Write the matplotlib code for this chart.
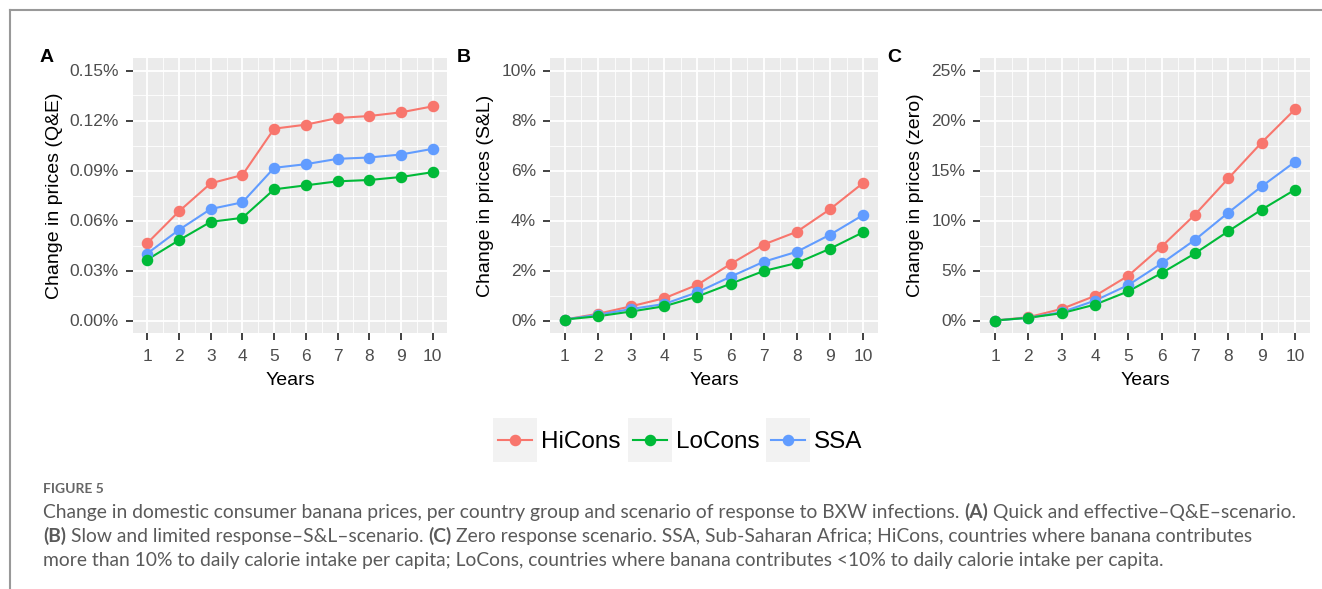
import matplotlib
matplotlib.use('Agg')
import matplotlib.pyplot as plt
from matplotlib.patches import Rectangle
from matplotlib.lines import Line2D
from matplotlib.ticker import FixedLocator, FuncFormatter

# ---------------- data ----------------
years = [1, 2, 3, 4, 5, 6, 7, 8, 9, 10]
series_names = ['HiCons', 'LoCons', 'SSA']

# Panel A: quick and effective (Q&E), % change
qe_hicons = [0.0464, 0.0655, 0.0823, 0.0873, 0.1151, 0.1175, 0.1215, 0.1227, 0.1249, 0.1285]
qe_locons = [0.0365, 0.0482, 0.0592, 0.0616, 0.0787, 0.0811, 0.0835, 0.0843, 0.0861, 0.0890]
qe_ssa = [0.0402, 0.0544, 0.0669, 0.0709, 0.0916, 0.0938, 0.0970, 0.0978, 0.0996, 0.1030]

# Panel B: slow and limited (S&L), % change
sl_hicons = [0.04, 0.27, 0.57, 0.89, 1.43, 2.26, 3.04, 3.55, 4.45, 5.50]
sl_locons = [0.04, 0.17, 0.36, 0.57, 0.96, 1.47, 1.98, 2.30, 2.87, 3.53]
sl_ssa = [0.04, 0.23, 0.46, 0.66, 1.13, 1.75, 2.35, 2.75, 3.43, 4.22]

# Panel C: zero response, % change
zr_hicons = [0.00, 0.33, 1.16, 2.46, 4.48, 7.40, 10.59, 14.21, 17.80, 21.12]
zr_locons = [0.00, 0.27, 0.73, 1.59, 2.92, 4.75, 6.71, 8.93, 11.09, 13.08]
zr_ssa = [0.00, 0.27, 0.83, 1.99, 3.55, 5.71, 8.07, 10.79, 13.41, 15.87]

qe_yticks = [0.00, 0.03, 0.06, 0.09, 0.12, 0.15]
sl_yticks = [0, 2, 4, 6, 8, 10]
zr_yticks = [0, 5, 10, 15, 20, 25]

panel_letters = ['A', 'B', 'C']
panel_ylabels = ['Change in prices (Q&E)', 'Change in prices (S&L)', 'Change in prices (zero)']

caption_head = 'FIGURE 5'
caption_lines = [
    [("Change in domestic consumer banana prices, per country group and scenario of response to BXW infections. ", False),
     ("(A)", True), (" Quick and effective\u2013Q&E\u2013scenario.", False)],
    [("(B)", True), (" Slow and limited response\u2013S&L\u2013scenario. ", False), ("(C)", True),
     (" Zero response scenario. SSA, Sub-Saharan Africa; HiCons, countries where banana contributes", False)],
    [("more than 10% to daily calorie intake per capita; LoCons, countries where banana contributes <10% to daily calorie intake per capita.", False)],
]

# ---------------- style ----------------
colors = {'HiCons': '#F8766D', 'LoCons': '#00BA38', 'SSA': '#619CFF'}
draw_order = ['HiCons', 'SSA', 'LoCons']
W, H = 1322, 589
FONT = 'Liberation Sans'
CAPFONT = 'Lato'

fig = plt.figure(figsize=(W / 100, H / 100), dpi=100)
fig.patch.set_facecolor('white')

panels = [
    dict(data={'HiCons': qe_hicons, 'LoCons': qe_locons, 'SSA': qe_ssa}, yticks=qe_yticks,
         fmt=lambda v, p: f'{v:.2f}%', left=133, right=447),
    dict(data={'HiCons': sl_hicons, 'LoCons': sl_locons, 'SSA': sl_ssa}, yticks=sl_yticks,
         fmt=lambda v, p: f'{v:.0f}%', left=550, right=878),
    dict(data={'HiCons': zr_hicons, 'LoCons': zr_locons, 'SSA': zr_ssa}, yticks=zr_yticks,
         fmt=lambda v, p: f'{v:.0f}%', left=980, right=1310),
]
top_px, bot_px = 58, 333

for i, pnl in enumerate(panels):
    ax = fig.add_axes([pnl['left'] / W, 1 - bot_px / H, (pnl['right'] - pnl['left']) / W, (bot_px - top_px) / H])
    ax.set_facecolor('#EBEBEB')
    for s in ax.spines.values():
        s.set_visible(False)
    yt = pnl['yticks']
    yr = yt[-1] - yt[0]
    ax.set_ylim(yt[0] - 0.05 * yr, yt[-1] + 0.05 * yr)
    ax.set_xlim(1 - 0.45, 10 + 0.45)
    ax.yaxis.set_major_locator(FixedLocator(yt))
    step = yt[1] - yt[0]
    ax.yaxis.set_minor_locator(FixedLocator([v + step / 2 for v in yt[:-1]]))
    ax.xaxis.set_major_locator(FixedLocator(years))
    ax.xaxis.set_minor_locator(FixedLocator([y + 0.5 for y in years[:-1]]))
    ax.yaxis.set_major_formatter(FuncFormatter(pnl['fmt']))
    ax.grid(which='major', color='white', linewidth=1.3)
    ax.grid(which='minor', color='white', linewidth=0.6)
    ax.set_axisbelow(True)
    ax.tick_params(which='major', length=5, width=1.3, color='#333333', labelsize=12.5,
                   labelcolor='#4D4D4D')
    ax.tick_params(axis='x', which='major', pad=6.5)
    ax.tick_params(axis='y', which='major', pad=5)
    ax.tick_params(which='minor', length=0)
    for lab in ax.get_xticklabels() + ax.get_yticklabels():
        lab.set_fontfamily(FONT)
    ax.set_xlabel('Years', fontsize=14, family=FONT, color='black', labelpad=6)
    ax.set_ylabel(panel_ylabels[i], fontsize=14, family=FONT, color='black', labelpad=5)
    for name in draw_order:
        ax.plot(years, pnl['data'][name], color=colors[name], lw=1.5, zorder=3)
    for name in draw_order:
        ax.plot(years, pnl['data'][name], linestyle='none', marker='o', markersize=7.3,
                color=colors[name], zorder=4)
    fig.text((pnl['left'] - 93) / W, 1 - 62 / H, panel_letters[i], fontsize=14, fontweight='bold',
             family=FONT, ha='left', va='baseline')

# ---------------- legend ----------------
leg_boxes = [493, 628, 766]
box = 44
ly0 = 418
for name, bx in zip(series_names, leg_boxes):
    fig.add_artist(Rectangle((bx / W, 1 - (ly0 + box) / H), box / W, box / H, transform=fig.transFigure,
                             facecolor='#F2F2F2', edgecolor='none'))
    cy = 1 - (ly0 + box / 2) / H
    fig.add_artist(Line2D([(bx + 5) / W, (bx + box - 5) / W], [cy, cy], transform=fig.transFigure,
                          color=colors[name], lw=1.5))
    fig.add_artist(Line2D([(bx + box / 2) / W], [cy], transform=fig.transFigure, marker='o',
                          markersize=7.3, color=colors[name]))
    fig.text((bx + box + 4) / W, 1 - (ly0 + box / 2 + 2) / H, name, fontsize=17.5, family=FONT,
             va='center', ha='left', color='black')

# ---------------- border ----------------
fig.add_artist(Line2D([10 / W, 1.0], [1 - 10 / H, 1 - 10 / H], transform=fig.transFigure, color='#999999', lw=1.5))
fig.add_artist(Line2D([10 / W, 10 / W], [0, 1 - 10 / H], transform=fig.transFigure, color='#999999', lw=1.5))

# ---------------- caption ----------------
fig.text(43 / W, 1 - 493 / H, caption_head, fontsize=10, family=CAPFONT, fontweight='bold',
         color='#666666', va='baseline', ha='left')

renderer = fig.canvas.get_renderer()


def text_width(s, size, bold):
    t = fig.text(0, 0, s, fontsize=size, family=CAPFONT, fontweight='bold' if bold else 'normal')
    w = t.get_window_extent(renderer=renderer).width
    t.remove()
    return w


def seg_width(s, size, bold):
    sp = text_width('x x', size, bold) - text_width('xx', size, bold)
    core = s.strip(' ')
    lead = len(s) - len(s.lstrip(' '))
    trail = len(s) - len(s.rstrip(' '))
    return lead * sp, (text_width(core, size, bold) if core else 0), trail * sp, core


# fit caption size so that first line spans ~1254 px
base = 12.0
w1 = sum(sum(seg_width(s, base, b)[:3]) for s, b in caption_lines[0])
cap_size = base * 1254 / w1

baselines = [518, 542, 566]
for line, yb in zip(caption_lines, baselines):
    x = 43
    for s, b in line:
        lead, cw, trail, core = seg_width(s, cap_size, b)
        x += lead
        if core:
            fig.text(x / W, 1 - yb / H, core, fontsize=cap_size, family=CAPFONT,
                     fontweight='bold' if b else 'normal', color='#5a5a5a', va='baseline', ha='left')
        x += cw + trail

fig.savefig('out.png', dpi=100)
